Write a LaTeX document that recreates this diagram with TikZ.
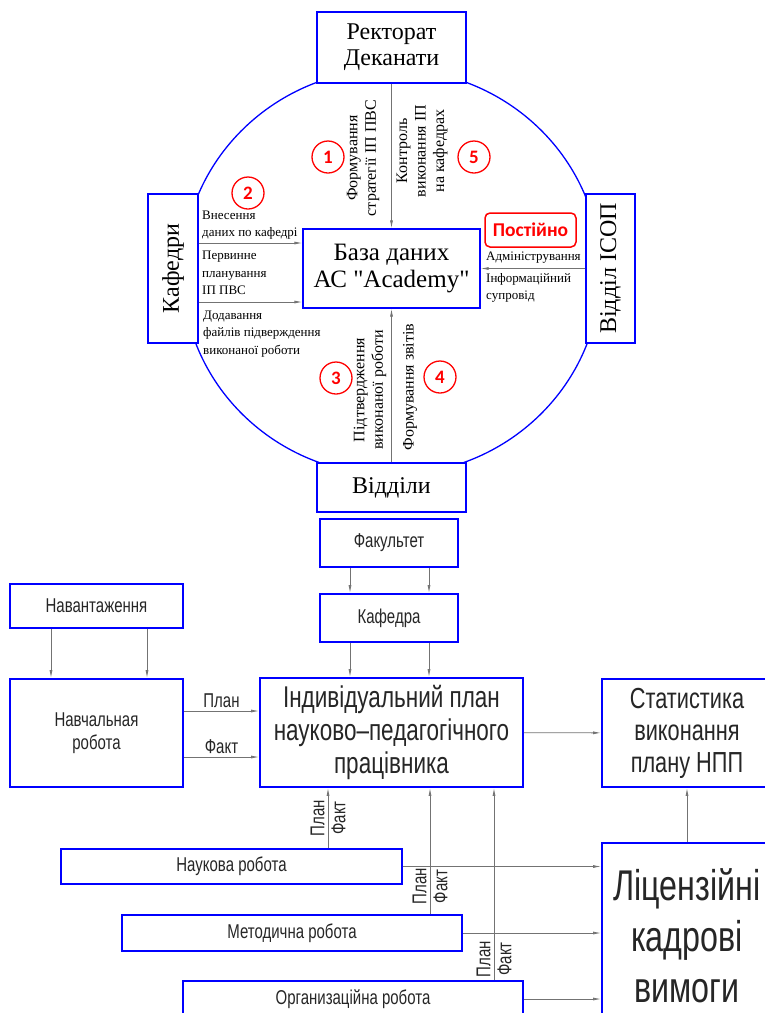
\documentclass[tikz,border=0pt]{standalone}
\usepackage{fontspec}
\setmainfont{Liberation Serif}[Ligatures=TeXOff]
\newfontfamily\gostfont[FakeStretch=0.75]{Liberation Sans}
\newfontfamily\calfont{Carlito}
\usetikzlibrary{arrows.meta}
\begin{document}
\begin{tikzpicture}[x=1pt,y=-1pt,
  bluebox/.style={draw=blue,line width=1.3pt,fill=white,inner sep=0pt,align=center},
  gostbox/.style={draw=blue,line width=1.8pt,fill=white,inner sep=0pt,align=center,text=black!85,font=\gostfont\fontsize{20}{23}\selectfont},
  arr/.style={draw=black!55,line width=0.8pt,-{Latex[length=8pt,width=3pt]}},
  numcirc/.style={circle,draw=red,line width=1.3pt,minimum size=32pt,inner sep=0pt,text=red,font=\calfont\bfseries\fontsize{19}{19}\selectfont},
  note/.style={font=\fontsize{13}{17.5}\selectfont,align=left,inner sep=0pt},
  vnote/.style={font=\fontsize{16}{18.5}\selectfont,align=center,rotate=90,inner sep=0pt},
  gnote/.style={font=\gostfont\fontsize{20}{20}\selectfont,text=black!85,inner sep=3pt}]
\useasboundingbox (0,0) rectangle (765,1013);
\clip (0,0) rectangle (765,1013);
\def\big{\fontsize{24}{26}\selectfont}

\draw[blue,line width=1.3pt] (391.5,272) ellipse [x radius=209pt,y radius=203pt];
\node[bluebox,minimum width=149pt,minimum height=71pt,font=\big] (rekt) at (391.5,47.5) {Ректорат\\Деканати};
\node[bluebox,minimum width=50pt,minimum height=149pt] (kaf) at (173,268.5) {\rotatebox{90}{\big Кафедри}};
\node[bluebox,minimum width=49pt,minimum height=149pt] (isop) at (610.5,268.5) {\rotatebox{90}{\big Відділ ІСОП}};
\node[bluebox,minimum width=149pt,minimum height=49pt,font=\big] (vid) at (391.5,487.5) {Відділи};
\node[bluebox,minimum width=177pt,minimum height=79pt,font=\fontsize{25}{27}\selectfont] (db) at (391.5,268.5) {База даних\\АС "Academy"};
\node[draw=red,rounded corners=5pt,line width=1.5pt,minimum width=91pt,minimum height=34pt,inner sep=0pt,text=red,font=\calfont\bfseries\fontsize{19.5}{20}\selectfont] (post) at (530.5,230) {Постійно};

\draw[arr] (rekt) -- (db);
\draw[arr] (vid) -- (db);
\draw[arr] (isop) -- (db);
\draw[arr] ([yshift=25.5pt]kaf.east) -- ([yshift=25.5pt]db.west);
\draw[arr] ([yshift=-33.5pt]kaf.east) -- ([yshift=-33.5pt]db.west);

\node[note,anchor=west] (lvnes) at (202,225) {Внесення\\даних по кафедрі};
\node[note,anchor=west] (lperv) at (202,273) {Первинне\\планування\\ІП ПВС};
\node[note,anchor=west] (ldod) at (203,334) {Додавання\\файлів підверждення\\виконаної роботи};
\node[note,anchor=west] (ladm) at (486,258) {Адміністрування};
\node[note,anchor=west] (linf) at (486,288) {Інформаційний\\супровід};
\node[vnote] (lform) at (363,158) {Формування\\стратегії ІП ПВС};
\node[vnote] (lkontr) at (422,151) {Контроль\\виконання ІП\\на кафедрах};
\node[vnote] (lpidt) at (370,390) {Підтвердження\\виконаної роботи};
\node[vnote] (lzvit) at (410,387) {Формування звітів};

\node[numcirc] (n1) at (328,157) {1};
\node[numcirc] (n2) at (248,193) {2};
\node[numcirc] (n3) at (336,378) {3};
\node[numcirc] (n4) at (440,377) {4};
\node[numcirc] (n5) at (474,157) {5};

\node[gostbox,minimum width=138pt,minimum height=48pt] (fak) at (389,543) {Факультет};
\node[gostbox,minimum width=138pt,minimum height=48pt] (kafd) at (389,618) {Кафедра};
\node[gostbox,minimum width=173pt,minimum height=44pt] (navant) at (96.5,606) {Навантаження};
\node[gostbox,minimum width=173pt,minimum height=108pt] (navch) at (96.5,733) {Навчальная\\робота};
\node[gostbox,minimum width=263pt,minimum height=109pt,font=\gostfont\fontsize{30}{33}\selectfont] (ip) at (391.5,732.5) {Індивідуальний план\\науково–педагогічного\\працівника};
\node[gostbox,minimum width=170pt,minimum height=108pt,font=\gostfont\fontsize{29}{32}\selectfont] (stat) at (687,733) {Статистика\\виконання\\плану НПП};
\node[gostbox,minimum width=170pt,minimum height=186pt,font=\gostfont\fontsize{43}{51}\selectfont] (lic) at (687,936) {Ліцензійні\\кадрові\\вимоги};
\node[gostbox,minimum width=341pt,minimum height=35pt] (nauk) at (231.5,866.5) {Наукова робота};
\node[gostbox,minimum width=340pt,minimum height=36pt] (metod) at (292,933) {Методична робота};
\node[gostbox,minimum width=340pt,minimum height=36pt] (org) at (353,999) {Организаційна робота};

\draw[arr] ([xshift=-39pt]fak.south) -- ([xshift=-39pt]fak.south |- kafd.north);
\draw[arr] ([xshift=40pt]fak.south) -- ([xshift=40pt]fak.south |- kafd.north);
\draw[arr] ([xshift=-39pt]kafd.south) -- ([xshift=-39pt]kafd.south |- ip.north);
\draw[arr] ([xshift=40pt]kafd.south) -- ([xshift=40pt]kafd.south |- ip.north);
\draw[arr] ([xshift=-45.5pt]navant.south) -- ([xshift=-45.5pt]navant.south |- navch.north);
\draw[arr] ([xshift=50.5pt]navant.south) -- ([xshift=50.5pt]navant.south |- navch.north);
\draw[arr] ([yshift=22pt]navch.east) -- ([yshift=22pt]navch.east -| ip.west) node[gnote,midway,above] (lplan) {План};
\draw[arr] ([yshift=-24pt]navch.east) -- ([yshift=-24pt]navch.east -| ip.west) node[gnote,midway,above] (lfakt) {Факт};
\draw[arr] (ip) -- (stat);
\draw[arr] (lic.north -| stat.south) -- (stat.south);
\draw[arr] (nauk.east) -- (nauk.east -| lic.west);
\draw[arr] (metod.east) -- (metod.east -| lic.west);
\draw[arr] (org.east) -- (org.east -| lic.west);
\draw[arr] ([xshift=96.5pt]nauk.north) -- ([xshift=96.5pt]nauk.north |- ip.south)
  node[gnote,pos=0.5,rotate=90,anchor=south] (lplan1) {План}
  node[gnote,pos=0.5,rotate=90,anchor=north] (lfakt1) {Факт};
\draw[arr] ([xshift=138pt]metod.north) -- ([xshift=138pt]metod.north |- ip.south)
  node[gnote,pos=0.22,rotate=90,anchor=south] (lplan2) {План}
  node[gnote,pos=0.22,rotate=90,anchor=north] (lfakt2) {Факт};
\draw[arr] ([xshift=141pt]org.north) -- ([xshift=141pt]org.north |- ip.south)
  node[gnote,pos=0.11,rotate=90,anchor=south] (lplan3) {План}
  node[gnote,pos=0.11,rotate=90,anchor=north] (lfakt3) {Факт};
\end{tikzpicture}
\end{document}
